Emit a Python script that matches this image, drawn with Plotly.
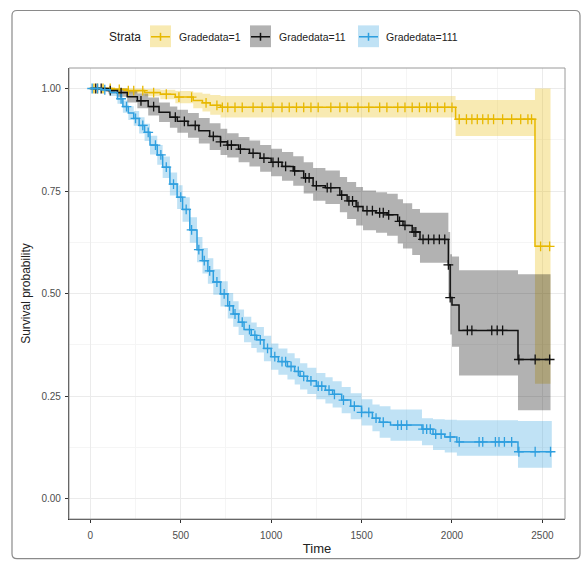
import numpy as np
import plotly.graph_objects as go

# ---------------- data ----------------
strata = ["Gradedata=1", "Gradedata=11", "Gradedata=111"]
colors = ["#E7B800", "#111111", "#2E9FDF"]
band_colors = ["rgba(231,184,0,0.3)", "rgba(0,0,0,0.3)", "rgba(46,159,223,0.3)"]

g1_time = [0, 120, 204, 300, 387, 470, 569, 620, 663, 720, 2020, 2459, 2545]
g1_surv = [1.0, 0.998, 0.995, 0.990, 0.986, 0.979, 0.971, 0.965, 0.959, 0.954, 0.925, 0.615, 0.615]
g1_upper = [1.0, 1.0, 1.0, 0.999, 0.997, 0.994, 0.990, 0.987, 0.984, 0.982, 0.972, 1.0, 1.0]
g1_lower = [1.0, 0.994, 0.988, 0.981, 0.974, 0.964, 0.952, 0.944, 0.936, 0.929, 0.884, 0.28, 0.28]
g1_censor = [20, 40, 70, 110, 160, 210, 240, 290, 350, 420, 490, 560, 640, 700, 730, 760, 800,
             840, 900, 950, 1010, 1060, 1100, 1140, 1180, 1220, 1260, 1330, 1380, 1420, 1480,
             1540, 1600, 1640, 1700, 1740, 1780, 1820, 1860, 1880, 1920, 1960, 2000, 2040,
             2080, 2110, 2140, 2170, 2200, 2230, 2280, 2330, 2380, 2420, 2440, 2490, 2540]

g11_time = [0, 100, 150, 204, 260, 320, 380, 440, 481, 540, 600, 660, 720, 757, 820, 880, 939,
            1000, 1060, 1122, 1180, 1232, 1300, 1380, 1420, 1470, 1508, 1580, 1641, 1700, 1729,
            1780, 1823, 1980, 1990, 2000, 2039, 2365, 2545]
g11_surv = [1.0, 0.995, 0.990, 0.980, 0.970, 0.956, 0.942, 0.930, 0.920, 0.910, 0.897, 0.883,
            0.870, 0.862, 0.852, 0.842, 0.830, 0.820, 0.810, 0.799, 0.782, 0.763, 0.758, 0.740,
            0.726, 0.712, 0.702, 0.697, 0.692, 0.676, 0.666, 0.650, 0.632, 0.570, 0.490, 0.472,
            0.410, 0.339, 0.339]
g11_upper = [1.0, 1.0, 1.0, 0.995, 0.988, 0.978, 0.966, 0.956, 0.948, 0.940, 0.928, 0.915,
             0.902, 0.891, 0.882, 0.873, 0.862, 0.853, 0.845, 0.835, 0.820, 0.806, 0.800, 0.784,
             0.772, 0.760, 0.751, 0.747, 0.743, 0.730, 0.720, 0.706, 0.697, 0.650, 0.596, 0.590,
             0.557, 0.547, 0.547]
g11_lower = [1.0, 0.988, 0.980, 0.966, 0.952, 0.934, 0.918, 0.904, 0.892, 0.880, 0.866, 0.850,
             0.838, 0.832, 0.820, 0.810, 0.797, 0.786, 0.775, 0.763, 0.744, 0.726, 0.718, 0.698,
             0.682, 0.666, 0.654, 0.648, 0.641, 0.622, 0.610, 0.594, 0.575, 0.490, 0.400, 0.370,
             0.300, 0.215, 0.215]
g11_censor = [30, 60, 110, 170, 280, 350, 470, 520, 580, 680, 720, 760, 780, 830, 900, 960, 1010,
              1040, 1080, 1130, 1190, 1210, 1250, 1310, 1330, 1390, 1430, 1450, 1480, 1530, 1560,
              1600, 1620, 1650, 1710, 1740, 1790, 1800, 1840, 1870, 1900, 1930, 1960, 1980, 1990,
              2085, 2110, 2220, 2250, 2280, 2370, 2460, 2540]

g111_time = [0, 60, 110, 150, 180, 210, 240, 270, 300, 330, 370, 400, 440, 480, 510, 550, 590,
             620, 650, 680, 720, 760, 790, 820, 850, 890, 920, 960, 1000, 1040, 1090, 1130, 1160,
             1200, 1250, 1300, 1340, 1390, 1440, 1500, 1560, 1600, 1660, 1834, 1895, 1960, 2027,
             2365, 2552]
g111_surv = [1.0, 0.997, 0.990, 0.975, 0.956, 0.940, 0.927, 0.910, 0.893, 0.862, 0.838, 0.808,
             0.767, 0.735, 0.705, 0.655, 0.607, 0.580, 0.555, 0.528, 0.499, 0.470, 0.450, 0.430,
             0.412, 0.398, 0.387, 0.366, 0.346, 0.334, 0.322, 0.310, 0.298, 0.287, 0.274, 0.264,
             0.254, 0.240, 0.225, 0.210, 0.196, 0.186, 0.179, 0.169, 0.157, 0.150, 0.138, 0.114,
             0.114]
g111_upper = [1.0, 1.0, 0.998, 0.987, 0.971, 0.957, 0.945, 0.930, 0.914, 0.885, 0.862, 0.834,
              0.795, 0.764, 0.735, 0.686, 0.638, 0.611, 0.586, 0.559, 0.530, 0.501, 0.481, 0.461,
              0.443, 0.429, 0.418, 0.397, 0.378, 0.366, 0.354, 0.342, 0.330, 0.319, 0.306, 0.296,
              0.286, 0.272, 0.257, 0.242, 0.229, 0.225, 0.217, 0.196, 0.193, 0.192, 0.191, 0.189,
              0.189]
g111_lower = [1.0, 0.994, 0.982, 0.963, 0.941, 0.923, 0.909, 0.890, 0.872, 0.839, 0.814, 0.782,
              0.739, 0.706, 0.675, 0.624, 0.576, 0.549, 0.524, 0.497, 0.468, 0.439, 0.419, 0.399,
              0.381, 0.367, 0.356, 0.335, 0.314, 0.302, 0.290, 0.278, 0.266, 0.255, 0.242, 0.232,
              0.222, 0.208, 0.193, 0.178, 0.164, 0.148, 0.141, 0.130, 0.118, 0.112, 0.104, 0.075,
              0.075]
g111_censor = [10, 40, 80, 170, 200, 250, 290, 320, 360, 390, 420, 460, 500, 530, 560, 600, 630,
               660, 700, 740, 770, 800, 840, 880, 910, 940, 980, 1020, 1060, 1080, 1110, 1150,
               1180, 1220, 1260, 1280, 1320, 1350, 1400, 1460, 1500, 1540, 1580, 1620, 1700, 1720,
               1750, 1840, 1860, 1880, 1910, 1940, 1990, 2040, 2150, 2170, 2240, 2260, 2290, 2330,
               2370, 2460, 2545]

x_ticks = [0, 500, 1000, 1500, 2000, 2500]
y_ticks = [0.0, 0.25, 0.5, 0.75, 1.0]
y_tick_labels = ["0.00", "0.25", "0.50", "0.75", "1.00"]

groups = [
    (g1_time, g1_surv, g1_upper, g1_lower, g1_censor),
    (g11_time, g11_surv, g11_upper, g11_lower, g11_censor),
    (g111_time, g111_surv, g111_upper, g111_lower, g111_censor),
]

fig = go.Figure()

# confidence bands
for (t, s, up, lo, c), bc in zip(groups, band_colors):
    fig.add_trace(go.Scatter(x=t, y=lo, mode="lines", line=dict(width=0, shape="hv"),
                             showlegend=False, hoverinfo="skip"))
    fig.add_trace(go.Scatter(x=t, y=up, mode="lines", line=dict(width=0, shape="hv"),
                             fill="tonexty", fillcolor=bc, showlegend=False, hoverinfo="skip"))

# survival step lines and censor marks
for (t, s, up, lo, c), col, name in zip(groups, colors, strata):
    fig.add_trace(go.Scatter(x=t, y=s, mode="lines", line=dict(color=col, width=1.5, shape="hv"),
                             name=name, showlegend=False))
    ta = np.array(t)
    sa = np.array(s)
    idx = np.searchsorted(ta, np.array(c), side="right") - 1
    fig.add_trace(go.Scatter(x=c, y=sa[idx], mode="markers",
                             marker=dict(symbol="cross-thin", size=7,
                                         line=dict(color=col, width=1.3)),
                             showlegend=False, hoverinfo="skip"))

# layout geometry (pixels; page margins are removed in post_script)
W, H = 582, 565
L, R, T, B = 69, 565, 68, 523
pw, ph = R - L, B - T


def px(x):
    return (x - L) / pw


def py(y):
    return (B - y) / ph


shapes = []
# outer rounded frame
x0, x1, y0, y1 = px(12), px(580), py(10), py(563)
r, ry = 5 / pw, 5 / ph
path = (f"M {x0 + r},{y0} L {x1 - r},{y0} Q {x1},{y0} {x1},{y0 - ry} "
        f"L {x1},{y1 + ry} Q {x1},{y1} {x1 - r},{y1} L {x0 + r},{y1} "
        f"Q {x0},{y1} {x0},{y1 + ry} L {x0},{y0 - ry} Q {x0},{y0} {x0 + r},{y0} Z")
shapes.append(dict(type="path", xref="paper", yref="paper", path=path,
                   line=dict(color="#8a8a8a", width=1.2), layer="below"))
# panel border
shapes.append(dict(type="rect", xref="paper", yref="paper", x0=0, x1=1, y0=0, y1=1,
                   line=dict(color="#9a9a9a", width=1), layer="above"))

# legend (manual, ggplot style)
annotations = [dict(text="Strata", x=px(107), y=py(37), xref="paper", yref="paper",
                    xanchor="left", yanchor="middle", showarrow=False,
                    font=dict(size=12, color="#222222"))]
leg_boxes = [(150, 171, 177), (250, 271, 277), (358, 379, 384)]
for (bx0, bx1, tx), col, bc, name in zip(leg_boxes, colors, band_colors, strata):
    shapes.append(dict(type="rect", xref="paper", yref="paper", x0=px(bx0), x1=px(bx1),
                       y0=py(47), y1=py(25), fillcolor=bc, line=dict(width=0)))
    shapes.append(dict(type="line", xref="paper", yref="paper", x0=px(bx0 + 1), x1=px(bx1 - 1),
                       y0=py(36.5), y1=py(36.5), line=dict(color=col, width=1.5)))
    cx = (bx0 + bx1) / 2
    shapes.append(dict(type="line", xref="paper", yref="paper", x0=px(cx), x1=px(cx),
                       y0=py(32.5), y1=py(40.5), line=dict(color=col, width=1.5)))
    annotations.append(dict(text=name, x=px(tx), y=py(37), xref="paper", yref="paper",
                            xanchor="left", yanchor="middle", showarrow=False,
                            font=dict(size=10.5, color="#222222")))

fig.update_layout(
    width=W, height=H,
    margin=dict(l=L, r=W - R, t=T, b=H - B, pad=0),
    paper_bgcolor="white", plot_bgcolor="white",
    font=dict(family="Liberation Sans, Arial, sans-serif", color="#222222"),
    showlegend=False,
    shapes=shapes,
    annotations=annotations,
    xaxis=dict(range=[-118, 2625], tickvals=x_ticks, ticks="outside", ticklen=3,
               tickcolor="#333333", tickfont=dict(size=10, color="#4d4d4d"),
               ticklabelstandoff=4,
               showline=True, linecolor="#333333", linewidth=1.2,
               showgrid=True, gridcolor="#EBEBEB", gridwidth=1,
               minor=dict(dtick=250, tick0=250, showgrid=True, gridcolor="#F5F5F5", gridwidth=0.8),
               zeroline=False,
               title=dict(text="Time", font=dict(size=13, color="#222222"), standoff=3)),
    yaxis=dict(range=[-0.05, 1.05], tickvals=y_ticks, ticktext=y_tick_labels, ticks="outside",
               ticklen=3, tickcolor="#333333", tickfont=dict(size=10, color="#4d4d4d"),
               ticklabelstandoff=2,
               showline=True, linecolor="#333333", linewidth=1.2,
               showgrid=True, gridcolor="#EBEBEB", gridwidth=1,
               minor=dict(dtick=0.125, tick0=0.125, showgrid=True, gridcolor="#F5F5F5", gridwidth=0.8),
               zeroline=False,
               title=dict(text="Survival probability", font=dict(size=12, color="#222222"),
                          standoff=8)),
)

page_fix = (
    "var h=document.documentElement,b=document.body;"
    "h.style.margin='0';h.style.padding='0';h.style.overflow='hidden';h.style.height='565px';"
    "b.style.margin='0';b.style.padding='0';b.style.overflow='hidden';b.style.height='565px';"
)

fig.write_html("out.html", config={"displayModeBar": False}, post_script=page_fix)
